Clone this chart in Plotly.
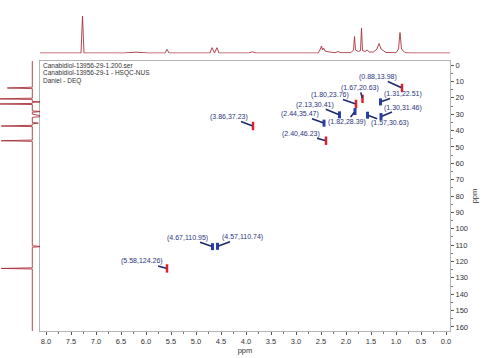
import plotly.graph_objects as go

# ---------------- data ----------------
header_lines = ["Canabidiol-13956-29-1.200.ser",
                "Canabidiol-13956-29-1 - HSQC-NUS",
                "Daniel - DEQ"]

# HSQC cross peaks (F2 1H ppm, F1 13C ppm) and multiplicity phase
peak_h = [0.88, 1.67, 1.80, 1.31, 2.13, 1.82, 2.44, 1.57, 1.30, 2.40, 3.86, 4.67, 4.57, 5.58]
peak_c = [13.98, 20.63, 23.76, 22.51, 30.41, 28.39, 35.47, 30.63, 31.46, 46.23, 37.23, 110.95, 110.74, 124.26]
peak_phase = ["pos", "pos", "pos", "neg", "neg", "neg", "neg", "neg", "neg", "pos", "pos", "neg", "neg", "pos"]

# 1H projection (top trace): ppm, intensity
h_ppm = [8.12, 7.30, 7.27, 7.24, 6.45, 6.20, 5.95, 5.62, 5.58, 5.54, 4.72, 4.68, 4.63, 4.58, 4.54,
         3.95, 3.87, 3.80, 2.56, 2.52, 2.49, 2.47, 2.45, 2.42, 2.36, 2.28, 2.22, 2.16, 2.10,
         1.90, 1.85, 1.83, 1.81, 1.75, 1.71, 1.69, 1.67, 1.62, 1.58, 1.53, 1.45, 1.38, 1.34,
         1.30, 1.20, 1.00, 0.95, 0.92, 0.89, 0.82, 0.70, -0.08]
h_int = [0, 0, 37, 0, 0, 0.8, 0, 0, 3.7, 0, 0, 5.3, 0, 5.3, 0,
         0, 1.2, 0, 0, 3, 7, 3, 5, 2, 1.2, 0.6, 0.3, 1.5, 0.3,
         0.4, 3, 16.5, 3, 1.5, 2.5, 25, 2.5, 1.5, 3, 1, 1, 4, 9.5,
         4, 0.5, 0.3, 4, 20.5, 4, 0.3, 0, 0]

# 13C projection (left trace): ppm, intensity (negative = CH2 phase)
c_ppm = [-2.5, 13.5, 13.98, 14.4, 20.2, 20.63, 21.0, 22.2, 22.51, 22.8, 23.4, 23.76, 24.1,
         28.0, 28.39, 28.8, 30.0, 30.5, 31.0, 31.46, 31.9, 35.1, 35.47, 35.9,
         36.8, 37.23, 37.6, 45.8, 46.23, 46.6, 110.4, 110.9, 111.3, 123.9, 124.26, 124.6, 162.5]
c_int = [0, 0, 25, 0, 0, 34, 0, 0, -9, 0, 0, 34, 0,
         0, -9, 0, 0, -9, -9, -9, 0, 0, -6, 0,
         0, 31, 0, 0, 31, 0, 0, -9, 0, 0, 31, 0, 0]

x_ticks = [8.0, 7.5, 7.0, 6.5, 6.0, 5.5, 5.0, 4.5, 4.0, 3.5, 3.0, 2.5, 2.0, 1.5, 1.0, 0.5, 0.0]
y_ticks = list(range(0, 170, 10))

# label offsets (pixels, text centre relative to peak)
label_dx = [-24, -3, -26, 22, -25, -8, -24, 22, 22, -25, -24, -25, 25, -25]
label_dy = [-11, -11, -9, -8, -10, 10, -9, 8, -9, -7, -9, -9, -9, -7]

# ---------------- figure ----------------
W, H = 487, 358
def px(v, total):
    return v / total

fig = go.Figure()

RED = "#e0202c"
BLUE = "#2a3fa8"
TRACE = "#a8323c"

# top 1H projection
fig.add_trace(go.Scatter(x=h_ppm, y=h_int, mode="lines", xaxis="x", yaxis="y2",
                         line=dict(color=TRACE, width=0.9), hoverinfo="skip", showlegend=False))
# left 13C projection
fig.add_trace(go.Scatter(x=c_int, y=c_ppm, mode="lines", xaxis="x3", yaxis="y",
                         line=dict(color=TRACE, width=0.9), hoverinfo="skip", showlegend=False))

# cross peaks
for phase, col, sz, lw in (("pos", RED, 6, 2.5), ("neg", BLUE, 5, 3)):
    xs = [h for h, p in zip(peak_h, peak_phase) if p == phase]
    ys = [c for c, p in zip(peak_c, peak_phase) if p == phase]
    fig.add_trace(go.Scatter(x=xs, y=ys, mode="markers", xaxis="x", yaxis="y",
                             marker=dict(symbol="line-ns", size=sz,
                                         line=dict(color=col, width=lw)),
                             showlegend=False, hoverinfo="skip"))

# labels with leader lines
for h, c, dx, dy in zip(peak_h, peak_c, label_dx, label_dy):
    fig.add_annotation(x=h, y=c, xref="x", yref="y",
                       text=f"({h:.2f},{c:.2f})", showarrow=True,
                       ax=dx, ay=dy, arrowhead=0, arrowwidth=1.6,
                       arrowcolor="#1c2a70", standoff=1, borderpad=0,
                       font=dict(family="Liberation Sans", size=7, color="#2a3580"))

# header text
for i, line in enumerate(header_lines):
    fig.add_annotation(x=px(41, W), y=1 - px(65 + 8 * i, H), xref="paper", yref="paper",
                       text=line, showarrow=False, xanchor="left", yanchor="middle",
                       font=dict(family="Liberation Sans", size=6.5, color="#333333"))

x_dom = [px(40, W), px(450, W)]
y_dom = [1 - px(331, H), 1 - px(61, H)]

fig.update_layout(
    width=W, height=H, autosize=False,
    margin=dict(l=0, r=0, t=0, b=0),
    paper_bgcolor="white", plot_bgcolor="white",
    font=dict(family="Liberation Sans", color="#333333"),
    xaxis=dict(domain=x_dom, range=[8.12, -0.08], anchor="y",
               tickvals=x_ticks, ticktext=[f"{v:.1f}" for v in x_ticks],
               ticks="outside", ticklen=3, tickcolor="#555555",
               minor=dict(dtick=0.25, ticks="outside", ticklen=2, tickcolor="#777777"),
               showline=True, linecolor="#b4b4b4", linewidth=1, mirror=True,
               showgrid=False, zeroline=False,
               tickfont=dict(size=7.5, color="#333333"),
               title=dict(text="ppm", font=dict(size=7.5, color="#333333"), standoff=1)),
    yaxis=dict(domain=y_dom, range=[162.5, -2.5], anchor="x", side="right",
               tickvals=y_ticks, ticktext=[str(v) for v in y_ticks],
               ticks="outside", ticklen=3, tickcolor="#555555",
               minor=dict(dtick=5, ticks="outside", ticklen=2, tickcolor="#777777"),
               showline=True, linecolor="#b4b4b4", linewidth=1, mirror=True,
               showgrid=False, zeroline=False,
               tickfont=dict(size=7.5, color="#333333"),
               title=dict(text="ppm", font=dict(size=7.5, color="#333333"), standoff=4)),
    yaxis2=dict(domain=[1 - px(53.5, H), 1 - px(13, H)], range=[-0.5, 40], anchor="x",
                visible=False),
    xaxis3=dict(domain=[0, px(40, W)], range=[32.3, -7.7], anchor="y", visible=False),
)

fig.write_html("out.html", config={"displayModeBar": False},
               post_script="document.body.style.margin='0px';")
